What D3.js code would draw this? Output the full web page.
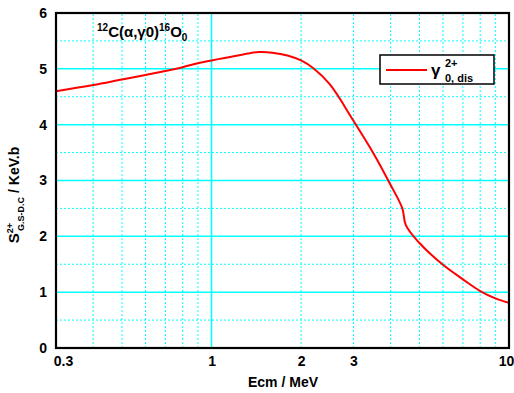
<!DOCTYPE html>
<html>
<head>
<meta charset="utf-8">
<script src="https://cdn.jsdelivr.net/npm/d3@7"></script>
<style>
  body { margin: 0; background: #fff; }
  svg { display: block; font-family: "Liberation Sans", Arial, sans-serif; font-weight: bold; }
</style>
</head>
<body>
<svg id="chart"></svg>
<script>
// Chart size and plot box
var width = 514;
var height = 393;
var margin = {top: 13, right: 5, bottom: 45, left: 56};

// Data: E (MeV) and S factor (keV.b)
var energies = [0.3, 0.4, 0.5, 0.6, 0.7, 0.8, 0.9, 1.0, 1.2, 1.44, 1.6, 1.8, 2.0, 2.2, 2.5, 3.0, 3.5, 4.0, 4.38, 4.5, 5.0, 6.0, 7.0, 8.0, 9.0, 10];
var sFactor  = [4.60, 4.71, 4.81, 4.89, 4.96, 5.03, 5.10, 5.15, 5.23, 5.30, 5.29, 5.24, 5.15, 5.01, 4.72, 4.07, 3.49, 2.92, 2.50, 2.20, 1.88, 1.49, 1.23, 1.02, 0.89, 0.81];

// Ticks and grid
var xTickValues = [0.3, 1, 2, 3, 10];
var xMajorGrid = [1, 10];
var xMinorGrid = [0.4, 0.5, 0.6, 0.7, 0.8, 0.9, 2, 3, 4, 5, 6, 7, 8, 9];
var yTickValues = [0, 1, 2, 3, 4, 5, 6];
var yMinorGrid = [0.5, 1.5, 2.5, 3.5, 4.5, 5.5];

var svg = d3.select("#chart").attr("width", width).attr("height", height);

var x = d3.scaleLog().domain([0.3, 10]).range([margin.left, width - margin.right]);
var y = d3.scaleLinear().domain([0, 6]).range([height - margin.bottom, margin.top]);

var grid = svg.append("g");
var cyan = "#00ffff";

// minor (dashed) grid first
grid.selectAll("line.xminor").data(xMinorGrid).enter().append("line")
    .attr("x1", function (d) { return x(d); }).attr("x2", function (d) { return x(d); })
    .attr("y1", y(0)).attr("y2", y(6))
    .attr("stroke", cyan).attr("stroke-width", 1).attr("stroke-dasharray", "2,2");
grid.selectAll("line.yminor").data(yMinorGrid).enter().append("line")
    .attr("x1", x(0.3)).attr("x2", x(10))
    .attr("y1", function (d) { return y(d); }).attr("y2", function (d) { return y(d); })
    .attr("stroke", cyan).attr("stroke-width", 1).attr("stroke-dasharray", "2,2");

// major (solid) grid
grid.selectAll("line.xmajor").data(xMajorGrid).enter().append("line")
    .attr("x1", function (d) { return x(d); }).attr("x2", function (d) { return x(d); })
    .attr("y1", y(0)).attr("y2", y(6))
    .attr("stroke", cyan).attr("stroke-width", 1.5);
grid.selectAll("line.ymajor").data(yTickValues).enter().append("line")
    .attr("x1", x(0.3)).attr("x2", x(10))
    .attr("y1", function (d) { return y(d); }).attr("y2", function (d) { return y(d); })
    .attr("stroke", cyan).attr("stroke-width", 1.5);

// the curve
var line = d3.line()
    .x(function (d) { return x(d[0]); })
    .y(function (d) { return y(d[1]); })
    .curve(d3.curveCatmullRom.alpha(0.5));

svg.append("path")
    .datum(d3.zip(energies, sFactor))
    .attr("d", line)
    .attr("fill", "none")
    .attr("stroke", "#ff0000")
    .attr("stroke-width", 2);

// frame
svg.append("rect")
    .attr("x", x(0.3)).attr("y", y(6))
    .attr("width", x(10) - x(0.3)).attr("height", y(0) - y(6))
    .attr("fill", "none").attr("stroke", "#000").attr("stroke-width", 2.2);

// axes (labels only, no tick marks)
var xAxis = d3.axisBottom(x).tickValues(xTickValues).tickSize(0).tickPadding(8)
    .tickFormat(function (d) { return d; });
var gx = svg.append("g").attr("transform", "translate(0," + y(0) + ")").call(xAxis);
gx.select(".domain").remove();
gx.selectAll("text").attr("font-size", 14).attr("font-weight", "bold")
    .attr("font-family", "Liberation Sans, Arial, sans-serif").attr("fill", "#000")
    .attr("dx", function (d) { return d === 0.3 ? 7 : (d === 10 ? -3 : 0); });

var yAxis = d3.axisLeft(y).tickValues(yTickValues).tickSize(0).tickPadding(9)
    .tickFormat(d3.format("d"));
var gy = svg.append("g").attr("transform", "translate(" + x(0.3) + ",0)").call(yAxis);
gy.select(".domain").remove();
gy.selectAll("text").attr("font-size", 14).attr("font-weight", "bold")
    .attr("font-family", "Liberation Sans, Arial, sans-serif").attr("fill", "#000");

// axis titles
svg.append("text")
    .attr("x", 283).attr("y", 387)
    .attr("text-anchor", "middle").attr("font-size", 14)
    .text("Ecm / MeV");

var ylab = svg.append("text")
    .attr("transform", "translate(19,195) rotate(-90)")
    .attr("text-anchor", "middle").attr("font-size", 14);
ylab.append("tspan").attr("font-size", 15).text("S");
ylab.append("tspan").attr("font-size", 9).attr("dy", -6).text("2+");
ylab.append("tspan").attr("font-size", 9).attr("dx", -8).attr("dy", 11).text("G.S-D.C");
ylab.append("tspan").attr("dy", -5).text(" / KeV.b");

// reaction annotation
var ann = svg.append("text").attr("x", 97).attr("y", 37).attr("font-size", 15);
ann.append("tspan").attr("font-size", 10).attr("dy", -6).text("12");
ann.append("tspan").attr("dy", 6).text("C(\u03b1,\u03b30)");
ann.append("tspan").attr("font-size", 10).attr("dy", -6).text("16");
ann.append("tspan").attr("dy", 6).text("O");
ann.append("tspan").attr("font-size", 10).attr("dy", 4).text("0");

// legend
var legend = svg.append("g");
legend.append("rect")
    .attr("x", 380).attr("y", 55).attr("width", 114).attr("height", 29)
    .attr("fill", "#fff").attr("stroke", "#000").attr("stroke-width", 1.5);
legend.append("line")
    .attr("x1", 386).attr("x2", 427).attr("y1", 70).attr("y2", 70)
    .attr("stroke", "#ff0000").attr("stroke-width", 2);
legend.append("text").attr("x", 431).attr("y", 76).attr("font-size", 17).text("\u03b3");
legend.append("text").attr("x", 445).attr("y", 67).attr("font-size", 11).text("2+");
legend.append("text").attr("x", 445).attr("y", 82).attr("font-size", 11).text("0, dis");
</script>
</body>
</html>
